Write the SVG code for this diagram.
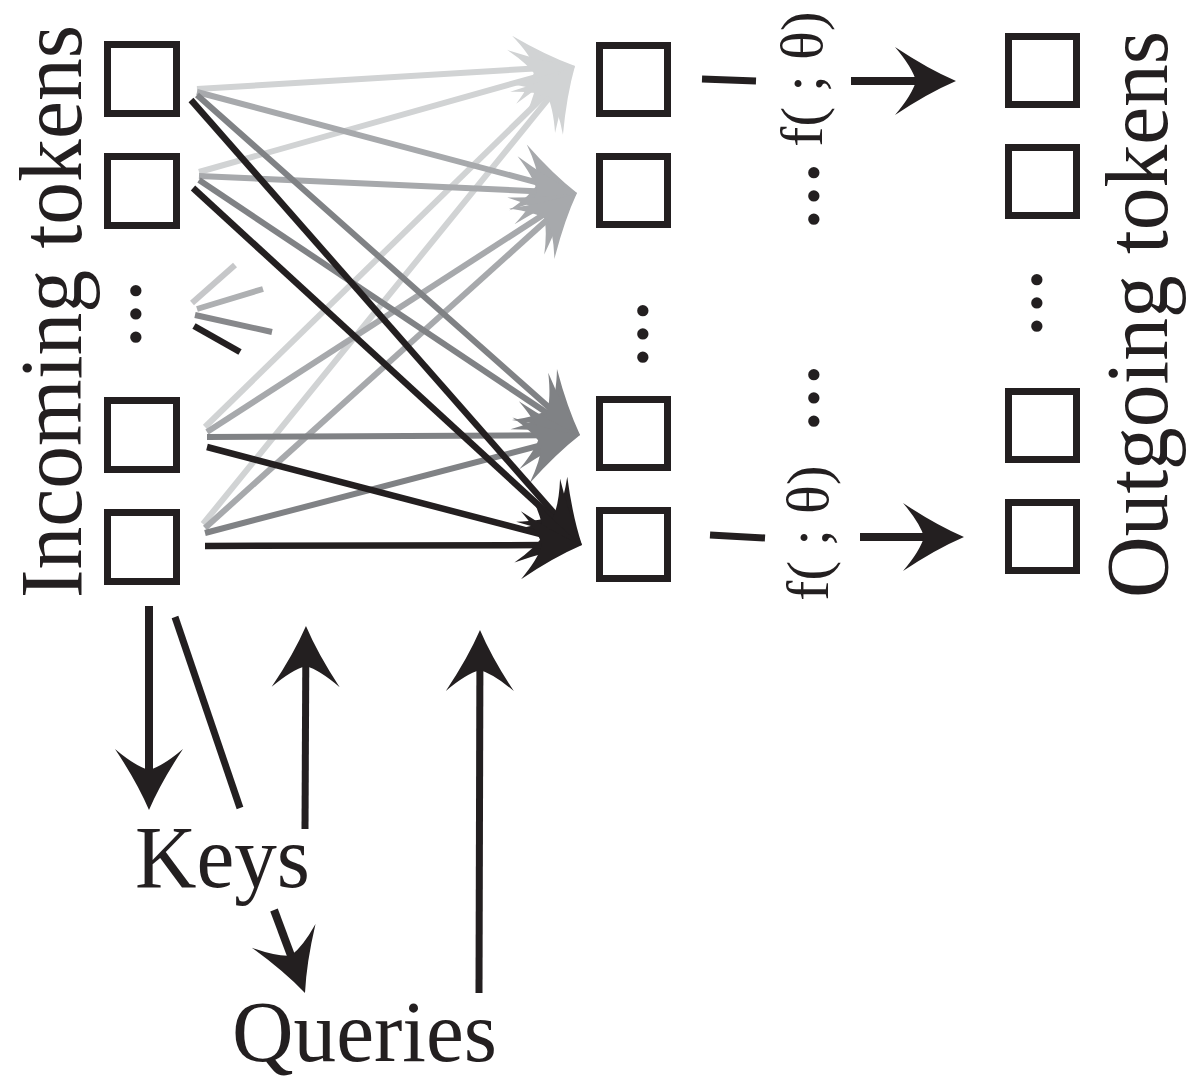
<svg xmlns="http://www.w3.org/2000/svg" width="1197" height="1082" viewBox="0 0 1197 1082">
<style>
.box{fill:none;stroke:#231f20;stroke-width:7}
.lbl{font-family:"Liberation Serif","Times New Roman",serif;fill:#231f20}
.dots{font-family:"Liberation Serif","Times New Roman",serif;font-weight:bold;fill:#231f20;font-size:69px}
.c{fill:none;stroke-linecap:butt}
.lt{stroke:#d1d3d4;stroke-width:6;marker-end:url(#hLt)}
.md{stroke:#a7a9ac;stroke-width:6;marker-end:url(#hMd)}
.dk{stroke:#808285;stroke-width:6;marker-end:url(#hDk)}
.bk{stroke:#231f20;stroke-width:6.5;marker-end:url(#hBk)}
.ar{stroke:#231f20;marker-end:url(#hBk)}
</style>
<defs>
<path id="head" d="M0,0 Q-28,-12 -61,-34 Q-44,-14 -40,0 Q-44,14 -61,34 Q-28,12 0,0Z"/>
<marker id="hLt" viewBox="-62 -35 63 70" refX="-36" refY="0" markerWidth="63" markerHeight="70" markerUnits="userSpaceOnUse" orient="auto"><use href="#head" fill="#d1d3d4"/></marker>
<marker id="hMd" viewBox="-62 -35 63 70" refX="-36" refY="0" markerWidth="63" markerHeight="70" markerUnits="userSpaceOnUse" orient="auto"><use href="#head" fill="#a7a9ac"/></marker>
<marker id="hDk" viewBox="-62 -35 63 70" refX="-36" refY="0" markerWidth="63" markerHeight="70" markerUnits="userSpaceOnUse" orient="auto"><use href="#head" fill="#808285"/></marker>
<marker id="hBk" viewBox="-62 -35 63 70" refX="-36" refY="0" markerWidth="63" markerHeight="70" markerUnits="userSpaceOnUse" orient="auto"><use href="#head" fill="#231f20"/></marker>
</defs>
<rect width="1197" height="1082" fill="#ffffff"/>

<g id="incoming-label"><text class="lbl" font-size="88" text-anchor="middle" textLength="573" lengthAdjust="spacingAndGlyphs" transform="translate(81,311.5) rotate(-90)">Incoming tokens</text></g>
<g id="outgoing-label"><text class="lbl" font-size="88" text-anchor="middle" textLength="567" lengthAdjust="spacingAndGlyphs" transform="translate(1167,314.5) rotate(-90)">Outgoing tokens</text></g>

<g id="in-1"><rect class="box" x="107.5" y="44.5" width="69" height="69"/></g>
<g id="in-2"><rect class="box" x="107.5" y="156.5" width="69" height="69"/></g>
<g id="in-dots"><text class="dots" text-anchor="middle" transform="translate(141,314) rotate(-90)">…</text></g>
<g id="in-3"><rect class="box" x="107.5" y="400.5" width="69" height="69"/></g>
<g id="in-4"><rect class="box" x="107.5" y="512.5" width="69" height="69"/></g>

<g id="mid-1"><rect class="box" x="599.5" y="45.5" width="68" height="68"/></g>
<g id="mid-2"><rect class="box" x="599.5" y="156.5" width="68" height="68"/></g>
<g id="mid-dots"><text class="dots" text-anchor="middle" transform="translate(648,334) rotate(-90)">…</text></g>
<g id="mid-3"><rect class="box" x="599.5" y="399.5" width="68" height="68"/></g>
<g id="mid-4"><rect class="box" x="599.5" y="510.5" width="68" height="68"/></g>

<g id="out-1"><rect class="box" x="1008.5" y="36.5" width="68" height="68"/></g>
<g id="out-2"><rect class="box" x="1008.5" y="147.5" width="68" height="68"/></g>
<g id="out-dots"><text class="dots" text-anchor="middle" transform="translate(1042,303) rotate(-90)">…</text></g>
<g id="out-3"><rect class="box" x="1008.5" y="391.5" width="68" height="68"/></g>
<g id="out-4"><rect class="box" x="1008.5" y="502.5" width="68" height="68"/></g>

<g id="f-top"><text class="lbl" font-size="60" text-anchor="middle" transform="translate(822,79) rotate(-90)">f( ; θ)</text></g>
<g id="f-dots-1"><text class="dots" text-anchor="middle" transform="translate(819,196) rotate(-90)">…</text></g>
<g id="f-dots-2"><text class="dots" text-anchor="middle" transform="translate(819,398) rotate(-90)">…</text></g>
<g id="f-bottom"><text class="lbl" font-size="60" text-anchor="middle" transform="translate(828,533) rotate(-90)">f( ; θ)</text></g>

<g id="keys"><text class="lbl" font-size="88" x="135" y="887" textLength="175" lengthAdjust="spacingAndGlyphs">Keys</text></g>
<g id="queries"><text class="lbl" font-size="86" x="232" y="1061" textLength="265" lengthAdjust="spacingAndGlyphs">Queries</text></g>

<g id="connectors" class="c">
<!-- stray fragments -->
<line x1="192" y1="303" x2="235" y2="265" stroke="#c6c7c9" stroke-width="6"/>
<line x1="197" y1="309" x2="263" y2="289" stroke="#aeb0b2" stroke-width="6"/>
<line x1="195" y1="315" x2="272" y2="332" stroke="#87888b" stroke-width="6"/>
<line x1="194" y1="326" x2="240" y2="352" stroke="#231f20" stroke-width="6.5"/>
<!-- light gray to mid-1 -->
<line class="lt" x1="197" y1="89" x2="539.1" y2="68.2"/>
<line class="lt" x1="199" y1="172" x2="540.4" y2="75.8"/>
<line class="lt" x1="205" y1="427" x2="549.2" y2="91.1"/>
<line class="lt" x1="203" y1="524" x2="552.3" y2="93.9"/>
<!-- mid gray to mid-2 -->
<line class="md" x1="197" y1="92" x2="542.2" y2="183.8"/>
<line class="md" x1="199" y1="176" x2="541.0" y2="191.4"/>
<line class="md" x1="207" y1="432" x2="546.8" y2="212.5"/>
<line class="md" x1="205" y1="528" x2="550.2" y2="217.1"/>
<!-- dark gray to mid-3 -->
<line class="dk" x1="197" y1="95" x2="553.1" y2="411.1"/>
<line class="dk" x1="199" y1="180" x2="550.1" y2="415.0"/>
<line class="dk" x1="207" y1="437" x2="544.0" y2="435.2"/>
<line class="dk" x1="205" y1="533" x2="545.2" y2="444.1"/>
<!-- black to mid-4 -->
<line class="bk" x1="191" y1="100" x2="558.2" y2="518.0"/>
<line class="bk" x1="193" y1="188" x2="555.5" y2="520.7"/>
<line class="bk" x1="207" y1="447" x2="547.2" y2="535.9"/>
<line class="bk" x1="205" y1="546" x2="546.0" y2="545.1"/>
<!-- f mapping -->
<line x1="702" y1="79" x2="756" y2="81" stroke="#231f20" stroke-width="7"/>
<line class="ar" x1="851" y1="81" x2="920" y2="81" stroke-width="8"/>
<line x1="710" y1="535" x2="765" y2="538" stroke="#231f20" stroke-width="7"/>
<line class="ar" x1="860" y1="537" x2="928" y2="537" stroke-width="8"/>
<!-- keys / queries -->
<line class="ar" x1="149" y1="606" x2="149" y2="774" stroke-width="8"/>
<line x1="175" y1="617" x2="240" y2="808" stroke="#231f20" stroke-width="7"/>
<line class="ar" x1="305" y1="829" x2="305.8" y2="662" stroke-width="7"/>
<line class="ar" x1="479" y1="993" x2="479.9" y2="666" stroke-width="7"/>
<line class="ar" x1="274" y1="910" x2="292.4" y2="959.3" stroke-width="8"/>
</g>
</svg>
